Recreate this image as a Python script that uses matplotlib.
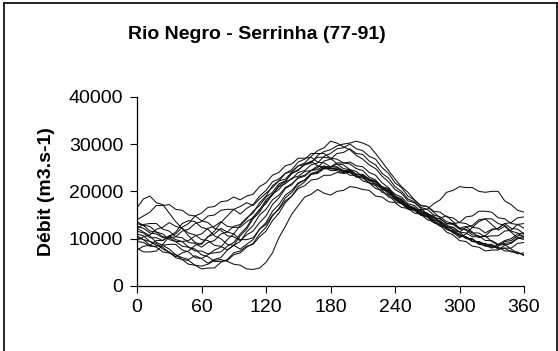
import numpy as np
import matplotlib
matplotlib.use("Agg")
import matplotlib.pyplot as plt
from matplotlib.lines import Line2D

plt.rcParams['font.family'] = ['Liberation Sans', 'DejaVu Sans']

# jours (pas de 6 jours) et débits en milliers de m3/s, une série par année 77-91
days = list(range(0, 361, 6))

s77 = [16.5, 18.4, 19.0, 17.6, 17.2, 15.4, 13.6, 12.2, 10.6, 9.2,
       8.8, 10.4, 11.6, 13.4, 14.8, 16.2, 16.8, 17.6, 17.0, 18.4,
       19.6, 20.8, 22.2, 22.6, 24.0, 25.4, 26.0, 27.4, 28.6, 29.2,
       30.6, 30.2, 29.4, 28.8, 27.6, 26.8, 25.6, 24.8, 23.2, 22.0,
       20.4, 19.6, 18.0, 17.6, 16.4, 15.2, 14.8, 13.4, 12.0, 11.4,
       10.2, 11.0, 12.4, 13.6, 14.2, 13.0, 11.8, 12.6, 11.4, 10.2, 9.8]
s78 = [12.2, 11.4, 10.6, 9.2, 8.6, 7.8, 6.6, 6.0, 5.6, 6.4,
       5.8, 6.6, 7.6, 8.2, 9.8, 11.0, 12.8, 14.2, 15.8, 17.0,
       18.8, 19.8, 21.6, 22.2, 23.8, 24.6, 25.6, 26.0, 27.6, 28.4,
       28.8, 29.6, 30.0, 30.2, 30.6, 30.2, 29.6, 28.0, 26.2, 24.4,
       22.6, 21.0, 19.8, 18.2, 17.0, 16.8, 15.6, 14.4, 14.8, 13.6,
       12.2, 12.6, 11.4, 10.2, 10.6, 9.4, 8.6, 8.8, 7.8, 7.0, 6.6]
s79 = [10.6, 9.8, 9.4, 8.6, 8.2, 7.0, 6.6, 5.6, 5.4, 4.4,
       4.2, 4.6, 5.4, 5.6, 5.2, 4.6, 4.4, 3.6, 3.5, 3.8,
       5.0, 7.0, 10.2, 12.6, 15.2, 17.0, 18.8, 19.4, 20.4, 19.6,
       19.2, 20.0, 20.2, 21.0, 20.8, 20.4, 20.2, 19.0, 18.8, 17.8,
       17.6, 16.6, 16.4, 15.4, 15.2, 14.0, 13.6, 12.6, 12.4, 11.2,
       11.0, 10.0, 9.8, 8.8, 8.6, 8.0, 8.8, 9.6, 10.0, 11.0, 11.2]
s80 = [13.6, 12.8, 12.6, 11.4, 11.0, 9.8, 9.4, 8.4, 8.2, 7.4,
       7.4, 6.8, 7.0, 7.2, 8.4, 9.2, 11.0, 12.4, 14.6, 16.0,
       18.2, 19.4, 21.0, 21.6, 22.8, 23.2, 24.2, 24.4, 25.4, 24.8,
       24.8, 24.6, 24.4, 23.4, 23.4, 22.2, 21.8, 20.6, 20.2, 18.8,
       18.4, 17.4, 17.0, 16.0, 16.2, 16.2, 17.4, 18.2, 19.8, 20.2,
       21.0, 20.8, 20.8, 20.0, 19.8, 20.0, 20.0, 18.0, 17.2, 16.0, 15.6]
s81 = [14.0, 14.8, 15.6, 17.0, 17.0, 17.2, 16.2, 16.0, 15.0, 14.8,
       13.8, 13.4, 12.2, 11.8, 10.6, 10.4, 9.6, 10.8, 11.6, 13.4,
       14.8, 17.2, 18.6, 20.6, 21.4, 23.0, 23.4, 24.4, 24.6, 25.4,
       24.8, 24.8, 24.0, 24.0, 23.0, 22.8, 21.8, 21.6, 20.4, 20.0,
       18.6, 18.0, 16.6, 16.2, 15.2, 15.0, 14.0, 13.8, 12.6, 12.4,
       11.4, 11.2, 10.4, 10.4, 10.6, 11.8, 12.2, 13.2, 12.2, 12.0, 11.0]
s82 = [9.6, 10.4, 10.8, 12.0, 12.4, 13.4, 12.6, 12.2, 11.2, 10.8,
       9.8, 9.6, 8.6, 8.4, 7.6, 8.6, 9.4, 11.4, 12.8, 15.0,
       16.2, 18.2, 19.2, 20.8, 21.6, 22.8, 23.2, 24.4, 25.0, 26.4,
       26.8, 28.0, 28.2, 29.0, 28.0, 27.8, 26.4, 25.6, 23.8, 22.8,
       21.0, 20.0, 18.4, 17.8, 16.6, 16.2, 15.0, 14.6, 13.6, 13.2,
       12.2, 11.8, 10.8, 10.6, 9.6, 9.6, 8.8, 9.0, 9.2, 10.2, 10.4]
s83 = [8.0, 7.2, 7.2, 7.4, 8.6, 8.8, 8.8, 7.6, 7.2, 6.0,
       5.8, 4.8, 5.6, 6.0, 7.6, 8.6, 10.6, 12.0, 14.2, 15.6,
       17.8, 19.2, 21.2, 22.2, 23.8, 24.4, 25.8, 26.2, 27.2, 27.2,
       27.0, 25.8, 25.6, 24.6, 24.2, 23.0, 22.6, 21.4, 20.8, 19.4,
       18.8, 17.6, 17.2, 16.2, 16.0, 15.0, 14.6, 13.4, 13.0, 11.8,
       11.4, 10.2, 10.0, 9.0, 9.0, 8.2, 8.2, 7.4, 7.4, 6.8, 7.0]
s84 = [12.6, 12.2, 11.2, 11.0, 10.2, 10.2, 10.4, 11.6, 12.0, 13.2,
       13.6, 14.8, 15.0, 16.0, 16.2, 16.2, 15.2, 16.4, 17.2, 19.0,
       20.2, 22.0, 22.6, 23.8, 24.2, 25.4, 25.6, 26.4, 25.4, 25.2,
       24.4, 24.4, 23.8, 24.0, 23.2, 23.2, 22.2, 22.0, 20.8, 20.4,
       19.0, 18.4, 17.0, 16.6, 15.6, 15.4, 14.4, 14.2, 13.2, 13.2,
       13.4, 14.6, 14.8, 15.8, 15.8, 15.6, 14.4, 14.2, 13.2, 13.0, 12.2]
s85 = [11.0, 10.6, 9.4, 9.0, 7.8, 7.2, 6.0, 5.6, 4.6, 4.4,
       3.6, 3.8, 3.8, 5.0, 5.6, 7.0, 7.4, 8.4, 8.8, 10.4,
       11.6, 13.8, 15.4, 17.6, 19.0, 21.0, 22.0, 23.6, 24.0, 25.0,
       25.0, 25.8, 24.8, 24.6, 23.6, 23.4, 22.4, 22.0, 20.8, 20.2,
       18.8, 18.2, 16.8, 16.4, 15.2, 14.8, 13.6, 13.2, 12.0, 11.6,
       10.6, 10.4, 9.4, 9.4, 8.8, 8.8, 8.0, 8.0, 7.2, 7.2, 6.4]
s86 = [13.2, 12.8, 11.6, 11.4, 10.4, 10.2, 9.4, 9.4, 9.6, 10.6,
       11.0, 12.2, 12.6, 13.6, 12.6, 12.4, 12.4, 13.6, 14.4, 16.2,
       17.4, 19.4, 20.4, 22.0, 22.6, 24.0, 24.4, 25.6, 26.0, 27.4,
       28.0, 29.0, 29.2, 30.0, 29.0, 28.6, 27.4, 26.8, 25.0, 23.8,
       21.8, 20.8, 19.0, 18.2, 17.0, 16.8, 15.8, 15.6, 14.6, 14.4,
       13.4, 13.2, 12.4, 12.2, 11.2, 12.0, 12.2, 13.2, 13.4, 14.4, 14.6]
s87 = [9.4, 9.2, 8.4, 8.4, 8.8, 10.4, 11.4, 13.2, 13.8, 13.6,
       12.4, 12.0, 10.6, 10.0, 8.8, 8.6, 7.8, 8.8, 9.8, 12.0,
       13.4, 15.8, 17.2, 19.2, 20.2, 21.8, 22.4, 23.6, 23.8, 24.8,
       24.8, 25.0, 24.2, 24.2, 23.2, 23.0, 21.8, 21.2, 19.8, 19.2,
       17.8, 17.4, 16.2, 16.0, 15.0, 14.8, 13.8, 13.6, 12.6, 12.4,
       11.4, 12.4, 12.8, 14.0, 14.2, 14.2, 13.2, 12.8, 11.6, 11.2, 10.2]
s88 = [12.2, 13.0, 13.2, 13.2, 12.0, 11.6, 10.4, 10.2, 9.2, 9.0,
       8.2, 9.2, 9.6, 11.0, 11.4, 12.6, 13.0, 14.4, 15.4, 17.6,
       19.0, 21.2, 22.2, 23.8, 24.6, 26.2, 26.8, 28.0, 28.0, 28.0,
       27.0, 26.8, 26.0, 25.8, 24.8, 24.4, 23.0, 22.4, 20.8, 20.0,
       18.4, 17.8, 16.6, 16.2, 15.0, 14.6, 13.4, 13.0, 12.0, 11.6,
       10.6, 10.4, 9.4, 9.2, 8.4, 8.4, 8.4, 9.4, 9.6, 10.6, 10.8]
s89 = [10.2, 9.8, 8.6, 8.2, 7.2, 7.0, 6.2, 7.0, 7.4, 8.6,
       9.0, 10.4, 11.0, 12.2, 11.4, 11.0, 9.8, 9.8, 10.2, 12.0,
       13.0, 15.0, 16.2, 18.0, 19.0, 20.6, 21.2, 22.4, 22.6, 23.4,
       23.4, 24.0, 23.8, 24.4, 23.6, 23.4, 22.4, 22.0, 20.6, 19.8,
       18.2, 17.6, 16.4, 16.0, 15.0, 14.6, 13.4, 12.8, 11.4, 10.8,
       9.6, 9.4, 8.4, 8.2, 7.4, 7.6, 7.6, 8.6, 9.0, 10.0, 10.2]
s90 = [7.6, 8.4, 8.6, 9.6, 9.6, 10.6, 9.8, 9.4, 8.2, 7.8,
       6.6, 6.2, 5.2, 5.2, 5.4, 6.6, 7.0, 8.2, 9.0, 11.0,
       12.4, 14.8, 16.4, 18.6, 19.8, 21.6, 22.4, 23.8, 24.2, 25.2,
       25.2, 26.0, 26.0, 26.2, 25.4, 25.2, 24.0, 23.4, 21.8, 20.8,
       19.0, 18.2, 16.8, 16.4, 15.4, 15.2, 14.0, 13.6, 12.4, 12.0,
       10.8, 10.4, 9.4, 9.4, 8.6, 8.6, 7.8, 8.0, 8.0, 9.0, 9.2]
s91 = [11.6, 11.2, 10.2, 10.2, 9.6, 10.6, 11.0, 12.4, 13.2, 14.8,
       15.4, 16.6, 16.8, 17.8, 18.0, 18.8, 18.2, 19.0, 19.4, 21.0,
       21.8, 23.4, 24.0, 25.4, 25.8, 27.0, 27.0, 27.2, 26.2, 26.0,
       25.2, 25.2, 24.4, 24.4, 23.6, 23.6, 22.6, 22.2, 21.0, 20.6,
       19.4, 18.8, 17.4, 17.0, 15.8, 15.4, 14.4, 14.2, 13.2, 13.0,
       12.0, 12.0, 11.2, 11.2, 10.4, 10.6, 10.6, 11.6, 11.8, 13.0, 13.2]

series = [s77, s78, s79, s80, s81, s82, s83, s84, s85, s86, s87, s88, s89, s90, s91]

xticks = [0, 60, 120, 180, 240, 300, 360]
yticks = [0, 10000, 20000, 30000, 40000]

fig = plt.figure(figsize=(5.58, 3.51), dpi=100)
ax = fig.add_axes([137 / 558, 65 / 351, 387 / 558, 189.3 / 351])

for s in series:
    ax.plot(days, np.array(s) * 1000, color="#111111", linewidth=0.75)

ax.set_xlim(0, 360)
ax.set_ylim(0, 40000)
ax.set_xticks(xticks)
ax.set_yticks(yticks)
ax.tick_params(labelsize=14, length=5, width=0.8, color="black")
ax.tick_params(axis="y", pad=5)
ax.tick_params(axis="x", pad=4)
ax.spines["top"].set_visible(False)
ax.spines["right"].set_visible(False)
ax.spines["left"].set_linewidth(0.9)
ax.spines["bottom"].set_linewidth(0.9)
ax.set_ylabel("Débit (m3.s-1)", fontsize=14, fontweight="bold", va="center")
ax.yaxis.set_label_coords(-0.235, 0.5)

fig.text(0.461, 0.903, "Rio Negro - Serrinha (77-91)", ha="center", va="center",
         fontsize=14, fontweight="bold")

# cadre autour du graphique (le bas est coupé)
for xs, ys in [([4 / 558, 556.5 / 558], [348 / 351, 348 / 351]),
               ([4 / 558, 4 / 558], [0, 348 / 351]),
               ([556.5 / 558, 556.5 / 558], [0, 348 / 351])]:
    fig.add_artist(Line2D(xs, ys, color="black", linewidth=1.2, transform=fig.transFigure))

fig.savefig("out.png", dpi=100)
